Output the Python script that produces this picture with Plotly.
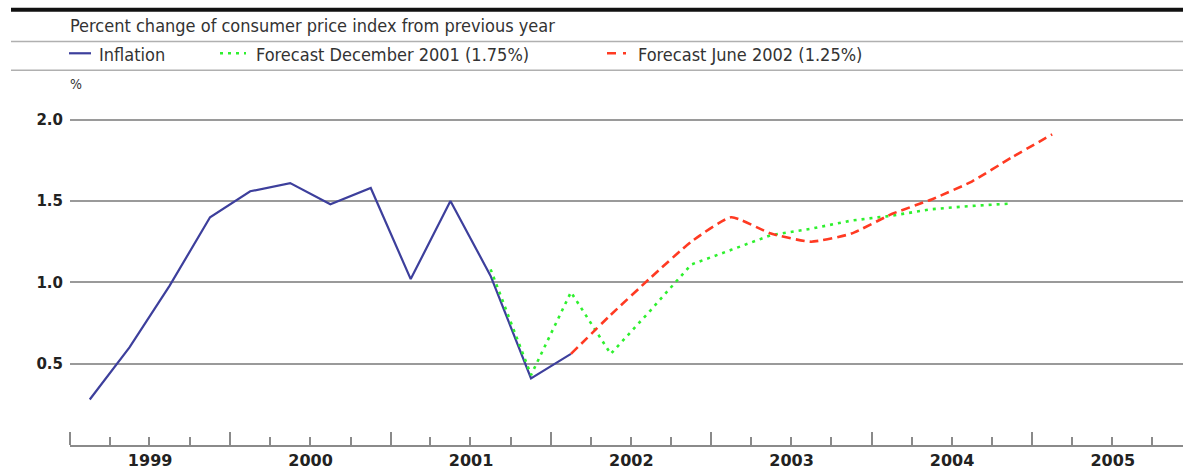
import pandas as pd
import plotly.graph_objects as go

# ---------------- data ----------------
inflation_quarters = ["1999Q1", "1999Q2", "1999Q3", "1999Q4", "2000Q1", "2000Q2", "2000Q3",
                      "2000Q4", "2001Q1", "2001Q2", "2001Q3", "2001Q4", "2002Q1"]
inflation_values = [0.28, 0.60, 0.98, 1.40, 1.56, 1.61, 1.48, 1.58, 1.02, 1.50, 1.04, 0.41, 0.56]

dec2001_quarters = ["2001Q3", "2001Q4", "2002Q1", "2002Q2", "2002Q3", "2002Q4", "2003Q1",
                    "2003Q2", "2003Q3", "2003Q4", "2004Q1", "2004Q2", "2004Q3", "2004Q4"]
dec2001_values = [1.08, 0.43, 0.94, 0.56, 0.83, 1.11, 1.20, 1.29, 1.33, 1.38, 1.41, 1.45, 1.47, 1.485]

jun2002_quarters = ["2002Q1", "2002Q2", "2002Q3", "2002Q4", "2003Q1", "2003Q2", "2003Q3",
                    "2003Q4", "2004Q1", "2004Q2", "2004Q3", "2004Q4", "2005Q1"]
jun2002_values = [0.56, 0.80, 1.03, 1.25, 1.40, 1.30, 1.25, 1.30, 1.42, 1.51, 1.62, 1.77, 1.91]

y_tick_values = [0.5, 1.0, 1.5, 2.0]
y_tick_labels = ["0.5", "1.0", "1.5", "2.0"]

title_text = "Percent change of consumer price index from previous year"
legend_names = ["Inflation", "Forecast December 2001 (1.75%)", "Forecast June 2002 (1.25%)"]
unit_text = "%"


def quarter_mid(q):
    p = pd.Period(q, freq="Q")
    return p.start_time + (p.end_time - p.start_time) / 2


# ---------------- layout geometry (pixels) ----------------
W, H = 1183, 470
L, R, T, B = 70, 1183, 87, 448


def px(x):
    return (x - L) / (R - L)


def py(y):
    return (B - y) / (B - T)


BLUE = "#3d3f9c"
GREEN = "#2ef02e"
RED = "#ff3a22"
GRID = "#9a9a9a"
TEXT_FONT = "DejaVu Sans Condensed, DejaVu Sans, sans-serif"
TXT = "#333333"

fig = go.Figure()
fig.add_trace(go.Scatter(x=[quarter_mid(q) for q in inflation_quarters], y=inflation_values,
                         mode="lines", name=legend_names[0],
                         line=dict(color=BLUE, width=2.2)))
fig.add_trace(go.Scatter(x=[quarter_mid(q) for q in dec2001_quarters], y=dec2001_values,
                         mode="lines", name=legend_names[1],
                         line=dict(color=GREEN, width=2.6, dash="3px,5px")))
fig.add_trace(go.Scatter(x=[quarter_mid(q) for q in jun2002_quarters], y=jun2002_values,
                         mode="lines", name=legend_names[2],
                         line=dict(color=RED, width=2.6, dash="9px,5px", shape="spline", smoothing=0.5)))

shapes = []
# top rules
shapes.append(dict(type="line", xref="paper", yref="paper", x0=px(11), x1=px(1183), y0=py(9), y1=py(9),
                   line=dict(color="#111111", width=4)))
for yy in (41, 70):
    shapes.append(dict(type="line", xref="paper", yref="paper", x0=px(11), x1=px(1183), y0=py(yy), y1=py(yy),
                       line=dict(color="#b0b0b0", width=1.5)))
# legend samples
ly = py(53)
shapes.append(dict(type="line", xref="paper", yref="paper", x0=px(69), x1=px(91), y0=ly, y1=ly,
                   line=dict(color=BLUE, width=2.2)))
shapes.append(dict(type="line", xref="paper", yref="paper", x0=px(220), x1=px(246), y0=ly, y1=ly,
                   line=dict(color=GREEN, width=2.4, dash="3px,5px")))
shapes.append(dict(type="line", xref="paper", yref="paper", x0=px(607), x1=px(629), y0=ly, y1=ly,
                   line=dict(color=RED, width=2.4, dash="9px,7px,3px,7px")))


def label(text, x, y, size=18):
    return dict(text=text, x=px(x), y=py(y), xref="paper", yref="paper", xanchor="left", yanchor="middle",
                showarrow=False, font=dict(family=TEXT_FONT, size=size, color=TXT))


annotations = [
    label(title_text, 68, 25),
    label(legend_names[0], 97, 54),
    label(legend_names[1], 254, 54),
    label(legend_names[2], 636, 54),
    label(unit_text, 68, 84, size=14),
]

fig.update_layout(
    width=W, height=H,
    margin=dict(l=L, r=W - R, t=T, b=H - B, pad=0),
    paper_bgcolor="white", plot_bgcolor="white",
    showlegend=False,
    shapes=shapes, annotations=annotations,
    xaxis=dict(
        type="date",
        range=["1999-01-01", "2005-12-10"],
        dtick="M12", tick0="1999-01-01", tickformat="%Y", ticklabelmode="period",
        ticks="inside", ticklen=13, tickwidth=1.5, tickcolor="#8a8a8a",
        showline=True, linecolor="#8a8a8a", linewidth=1.5,
        showgrid=False, zeroline=False,
        tickfont=dict(family="DejaVu Sans, sans-serif", size=16, color="#222222", weight="bold"),
        minor=dict(dtick="M3", tick0="1999-01-01", ticks="inside", ticklen=8, tickwidth=1.5,
                   tickcolor="#8a8a8a", showgrid=False),
    ),
    yaxis=dict(
        range=[0, (B - T) / 164.0],
        tickmode="array", tickvals=y_tick_values, ticktext=y_tick_labels,
        ticks="", showline=False, zeroline=False,
        showgrid=True, gridcolor=GRID, gridwidth=1.5,
        ticklabelstandoff=6,
        tickfont=dict(family="DejaVu Sans, sans-serif", size=15, color="#222222", weight="bold"),
    ),
)

fig.write_html("out.html", config={"displayModeBar": False},
               post_script="document.body.style.margin='0';document.body.style.overflow='hidden';")
